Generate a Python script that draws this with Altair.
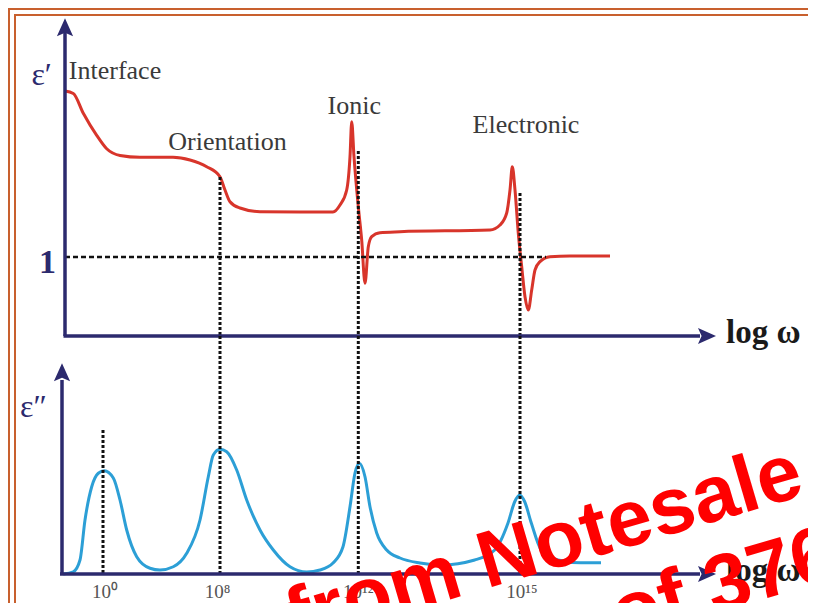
import altair as alt
import pandas as pd

# ---------------- data (schematic units) ----------------
# x: position along the log(omega) axis (schematic units)
# real part eps' (red curve)
red_x = [0, 1.66, 3.66, 6.34, 8.34, 11, 15, 21.6, 25, 28.34, 31, 32, 33, 35, 39, 47, 53.6,
         55, 56.34, 57, 57.34, 57.8, 58.66, 59.34, 60, 60.66, 61.34, 63, 67, 85,
         87, 88.34, 89, 89.46, 90, 90.66, 91.34, 92, 92.66, 93.34, 94, 95, 97, 101, 109]
red_y = [3.101, 3.070, 2.820, 2.540, 2.370, 2.285, 2.262, 2.262, 2.228, 2.143, 2.016, 1.848,
         1.700, 1.620, 1.573, 1.570, 1.570, 1.658, 1.848, 2.270, 2.713, 2.270, 1.637, 1.215,
         0.667, 1.130, 1.257, 1.308, 1.320, 1.342, 1.405, 1.557, 1.848, 2.143, 1.848, 1.300,
         0.877, 0.497, 0.329, 0.582, 0.835, 0.941, 1.004, 1.013, 1.013]

# imaginary part eps'' (blue curve)
blue_x = [-0.34, 1.66, 3, 4, 5.34, 6.66, 7.86, 9.66, 11, 12.34, 14.34, 17, 19, 21.66, 24.34,
          27, 28.66, 29.66, 31, 32.34, 34.34, 36.34, 39, 41.66, 45, 48.34, 51, 53.6, 55.6,
          57, 58, 58.86, 60, 61, 62.34, 64.34, 67, 71, 75.2, 81.94, 85.94, 88.6, 89.94,
          90.94, 91.94, 93.26, 95.26, 98.6, 103.2, 107.2]
blue_y = [0, 0.018, 0.112, 0.432, 0.698, 0.806, 0.826, 0.768, 0.592, 0.352, 0.138, 0.046,
          0.032, 0.058, 0.166, 0.432, 0.778, 0.952, 0.998, 0.978, 0.832, 0.592, 0.352, 0.192,
          0.058, 0.016, 0.032, 0.088, 0.218, 0.538, 0.808, 0.886, 0.778, 0.538, 0.328, 0.192,
          0.128, 0.088, 0.072, 0.112, 0.192, 0.408, 0.578, 0.632, 0.578, 0.408, 0.192, 0.112,
          0.090, 0.090]

# process labels (upper panel)
proc_labels = ["Interface", "Orientation", "Ionic", "Electronic"]
proc_x = [10, 32.5, 57.84, 92.2]
proc_y = [3.259, 2.354, 2.810, 2.570]

# resonance / relaxation positions (dotted verticals)
vline_x = [31, 58.66, 91]
vline_top = [2.013, 2.342, 1.810]
peak1_x = [7.6]
peak1_top = [1.152]

# bottom tick labels
tick_labels = ["10\u2070", "10\u2078", "10\u00b9\u00b2", "10\u00b9\u2075"]
tick_x = [8, 30.5, 58.66, 91.4]

# watermark
wm_labels = ["from Notesale", "of 376"]
wm_x = [46, 111]
wm_y = [-0.568, -0.54]

# ---------------- scales ----------------
xs = alt.Scale(domain=[-11.4, 148.6], nice=False, zero=False)
y1s = alt.Scale(domain=[-3.3797, 4.1519], nice=False, zero=False)
y2s = alt.Scale(domain=[-0.232, 4.528], nice=False, zero=False)

NAVY = "#2c2a6e"
SERIF = "Liberation Serif"
UP = "M0,-1L0.9,1L0,0.6L-0.9,1Z"
RIGHT = "M1,0L-1,0.9L-0.6,0L-1,-0.9Z"
DOT = "#111111"


def X(f="x"):
    return alt.X(f"{f}:Q", scale=xs, axis=None)


def Y1(f="y"):
    return alt.Y(f"{f}:Q", scale=y1s, axis=None)


def Y2(f="y"):
    return alt.Y(f"{f}:Q", scale=y2s, axis=None)


# ---------------- upper panel ----------------
red = alt.Chart(pd.DataFrame({"x": red_x, "y": red_y})).mark_line(
    color="#d8352b", strokeWidth=3, interpolate="monotone").encode(x=X(), y=Y1())

hdash = alt.Chart(pd.DataFrame({"x": [0], "x2": [96.2], "y": [1]})).mark_rule(
    color=DOT, strokeWidth=2.5, strokeDash=[5, 3]).encode(x=X(), x2="x2:Q", y=Y1())

vtop = alt.Chart(pd.DataFrame({"x": vline_x, "y": vline_top, "y2": [0, 0, 0]})).mark_rule(
    color=DOT, strokeWidth=3, strokeDash=[3, 2]).encode(x=X(), y=Y1(), y2="y2:Q")

t_yaxis = alt.Chart(pd.DataFrame({"x": [0], "y": [0], "y2": [3.85]})).mark_rule(
    color=NAVY, strokeWidth=3.5).encode(x=X(), y=Y1(), y2="y2:Q")
t_xaxis = alt.Chart(pd.DataFrame({"x": [-0.3], "x2": [127], "y": [0]})).mark_rule(
    color=NAVY, strokeWidth=3.5).encode(x=X(), x2="x2:Q", y=Y1())
t_up = alt.Chart(pd.DataFrame({"x": [0], "y": [3.908]})).mark_point(
    shape=UP, filled=True, size=324, color=NAVY, opacity=1).encode(x=X(), y=Y1())
t_right = alt.Chart(pd.DataFrame({"x": [128.4], "y": [0]})).mark_point(
    shape=RIGHT, filled=True, size=324, color=NAVY, opacity=1).encode(x=X(), y=Y1())

proc = alt.Chart(pd.DataFrame({"x": proc_x, "y": proc_y, "t": proc_labels})).mark_text(
    font=SERIF, fontSize=26, color="#3a3a3a", align="center", baseline="alphabetic"
).encode(x=X(), y=Y1(), text="t:N")

eps1 = alt.Chart(pd.DataFrame({"x": [-4.67], "y": [3.177], "t": ["\u03b5\u2032"]})).mark_text(
    font=SERIF, fontSize=32, color=NAVY, align="center", baseline="alphabetic"
).encode(x=X(), y=Y1(), text="t:N")

one = alt.Chart(pd.DataFrame({"x": [-3.5], "y": [0.797], "t": ["1"]})).mark_text(
    font=SERIF, fontSize=34, fontWeight="bold", color=NAVY, align="center", baseline="alphabetic"
).encode(x=X(), y=Y1(), text="t:N")

logw_top = alt.Chart(pd.DataFrame({"x": [132.2], "y": [-0.089], "t": ["log \u03c9"]})).mark_text(
    font=SERIF, fontSize=33, fontWeight="bold", color="#1a1a1a", align="left", baseline="alphabetic"
).encode(x=X(), y=Y1(), text="t:N")

top = alt.layer(red, hdash, vtop, t_yaxis, t_xaxis, t_up, t_right, proc, eps1, one, logw_top)

# ---------------- lower panel ----------------
blue = alt.Chart(pd.DataFrame({"x": blue_x, "y": blue_y})).mark_line(
    color="#2c9fd6", strokeWidth=3, interpolate="monotone").encode(x=X(), y=Y2())

vb = pd.DataFrame({"x": peak1_x + vline_x,
                   "y": peak1_top + [1.904, 1.904, 1.904],
                   "y2": [0, 0, 0, 0]})
vbot = alt.Chart(vb).mark_rule(color=DOT, strokeWidth=3, strokeDash=[3, 2]).encode(
    x=X(), y=Y2(), y2="y2:Q")

b_yaxis = alt.Chart(pd.DataFrame({"x": [-0.6], "y": [0], "y2": [1.552]})).mark_rule(
    color=NAVY, strokeWidth=3.5).encode(x=X(), y=Y2(), y2="y2:Q")
b_xaxis = alt.Chart(pd.DataFrame({"x": [-1], "x2": [127], "y": [0]})).mark_rule(
    color=NAVY, strokeWidth=3.5).encode(x=X(), x2="x2:Q", y=Y2())
b_up = alt.Chart(pd.DataFrame({"x": [-0.6], "y": [1.614]})).mark_point(
    shape=UP, filled=True, size=324, color=NAVY, opacity=1).encode(x=X(), y=Y2())
b_right = alt.Chart(pd.DataFrame({"x": [128.4], "y": [0]})).mark_point(
    shape=RIGHT, filled=True, size=324, color=NAVY, opacity=1).encode(x=X(), y=Y2())

ticks = alt.Chart(pd.DataFrame({"x": tick_x, "y": [-0.192] * 4, "t": tick_labels})).mark_text(
    font=SERIF, fontSize=19, color="#555555", align="center", baseline="alphabetic"
).encode(x=X(), y=Y2(), text="t:N")

eps2 = alt.Chart(pd.DataFrame({"x": [-6.33], "y": [1.258], "t": ["\u03b5\u2033"]})).mark_text(
    font=SERIF, fontSize=32, color=NAVY, align="center", baseline="alphabetic"
).encode(x=X(), y=Y2(), text="t:N")

logw_bot = alt.Chart(pd.DataFrame({"x": [132.2], "y": [-0.056], "t": ["log \u03c9"]})).mark_text(
    font=SERIF, fontSize=33, fontWeight="bold", color="#1a1a1a", align="left", baseline="alphabetic"
).encode(x=X(), y=Y2(), text="t:N")

wm = alt.Chart(pd.DataFrame({"x": wm_x, "y": wm_y, "t": wm_labels})).mark_text(
    font="Liberation Sans", fontSize=80, fontWeight="bold", color="#ff0000",
    align="left", baseline="alphabetic", angle=343.6
).encode(x=X(), y=Y2(), text="t:N")

bot = alt.layer(blue, vbot, b_yaxis, b_xaxis, b_up, b_right, ticks, eps2, logw_bot, wm)

# ---------------- frame ----------------
frame_df = pd.DataFrame({"k": [0]})
outer = alt.Chart(frame_df).mark_rect(filled=False, stroke="#c8602e", strokeWidth=2).encode(
    x=alt.value(1), x2=alt.value(830), y=alt.value(1), y2=alt.value(700))
inner = alt.Chart(frame_df).mark_rect(filled=False, stroke="#c8602e", strokeWidth=2).encode(
    x=alt.value(7), x2=alt.value(830), y=alt.value(7), y2=alt.value(601))

chart = alt.layer(outer, inner, top, bot).resolve_scale(y="independent").properties(
    width=800, height=595, autosize=alt.AutoSizeParams(type="none"), padding=0,
    background="white"
).configure_view(stroke=None)

chart.save("out.html", embed_options={"renderer": "svg", "actions": False})
